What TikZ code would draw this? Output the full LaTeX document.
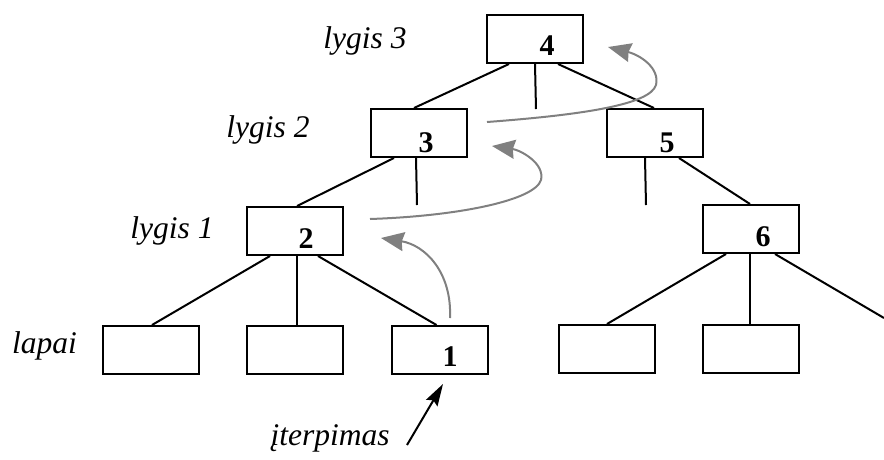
\documentclass[tikz,border=0pt]{standalone}
\usepackage{fontspec}
\setmainfont{Liberation Serif}
\usetikzlibrary{arrows.meta}
\definecolor{movegray}{RGB}{128,128,128}
\tikzset{
  box/.style={draw, line width=2pt, minimum width=96pt, minimum height=48pt, inner sep=0pt},
  num/.style={anchor=base, inner sep=0pt, font=\fontsize{30}{36}\selectfont\bfseries},
  lvl/.style={anchor=base, inner sep=0pt, font=\fontsize{31.5}{38}\selectfont\itshape},
  edge/.style={line width=2pt},
  moveup/.style={draw=movegray, line width=2pt, -{Stealth[length=23pt,width=19pt,inset=2pt]}},
  insert/.style={line width=2pt, -{Stealth[length=22pt,width=13pt,inset=3pt]}}
}
\begin{document}
\begin{tikzpicture}[x=1pt,y=-1pt]
\useasboundingbox (0,0) rectangle (884,459);

% tree nodes
\node[box] (b4) at (535,39) {};
\node[box] (b3) at (419,133) {};
\node[box] (b5) at (655,133) {};
\node[box] (b2) at (295,231) {};
\node[box] (b6) at (751,229) {};
\node[box] (l1) at (151,350) {};
\node[box] (l2) at (295,350) {};
\node[box] (b1) at (439.5,350) {};
\node[box] (l4) at (607,349) {};
\node[box] (l5) at (751,349) {};

% keys
\node[num] (n4) at (547,55) {4};
\node[num] (n3) at (426,152) {3};
\node[num] (n5) at (667,152) {5};
\node[num] (n2) at (306,248) {2};
\node[num] (n6) at (763,246) {6};
\node[num] (n1) at (450,366) {1};

% level captions
\node[lvl] (t3) at (365,48) {lygis 3};
\node[lvl] (t2) at (268,137) {lygis 2};
\node[lvl] (t1) at (172,238) {lygis 1};
\node[lvl] (t0) at (44.5,353) {lapai};
\node[lvl] (ti) at (330,445) {įterpimas};

% free ends of pointers
\coordinate (s4) at (536,109);
\coordinate (s3) at (417,205);
\coordinate (s5) at (646,205);
\coordinate (s6) at (884,318);

% pointers
\draw[edge] ([xshift=23pt]b4.south west) -- ([xshift=44pt]b3.north west);
\draw[edge] ([xshift=49pt]b4.south west) -- (s4);
\draw[edge] ([xshift=72pt]b4.south west) -- ([xshift=48pt]b5.north west);
\draw[edge] ([xshift=24pt]b3.south west) -- ([xshift=51pt]b2.north west);
\draw[edge] ([xshift=46pt]b3.south west) -- (s3);
\draw[edge] ([xshift=39pt]b5.south west) -- (s5);
\draw[edge] ([xshift=73pt]b5.south west) -- ([xshift=48pt]b6.north west);
\draw[edge] ([xshift=24pt]b2.south west) -- ([xshift=50pt]l1.north west);
\draw[edge] ([xshift=51pt]b2.south west) -- ([xshift=51pt]l2.north west);
\draw[edge] ([xshift=72pt]b2.south west) -- ([xshift=46pt]b1.north west);
\draw[edge] ([xshift=24pt]b6.south west) -- ([xshift=49pt]l4.north west);
\draw[edge] ([xshift=48pt]b6.south west) -- ([xshift=48pt]l5.north west);
\draw[edge] ([xshift=73pt]b6.south west) -- (s6);

% key moving up the levels
\coordinate (a1s) at (450,318);
\coordinate (a1e) at (381,238);
\coordinate (a2s) at (370,219);
\coordinate (a2m) at (541,180);
\coordinate (a2e) at (492,146);
\coordinate (a3s) at (487,122);
\coordinate (a3m) at (656,85);
\coordinate (a3e) at (608,47);
\draw[moveup] (a1s) .. controls (452,272) and (425,245) .. (a1e);
\draw[moveup] (a2s) .. controls (460,216) and (535,200) .. (a2m)
                    .. controls (545,163) and (520,150) .. (a2e);
\draw[moveup] (a3s) .. controls (580,115) and (650,105) .. (a3m)
                    .. controls (660,68) and (640,55) .. (a3e);

% insertion point
\coordinate (ins) at (407,445);
\draw[insert] (ins) -- ([xshift=3.5pt,yshift=-9pt]b1.south);
\end{tikzpicture}
\end{document}
